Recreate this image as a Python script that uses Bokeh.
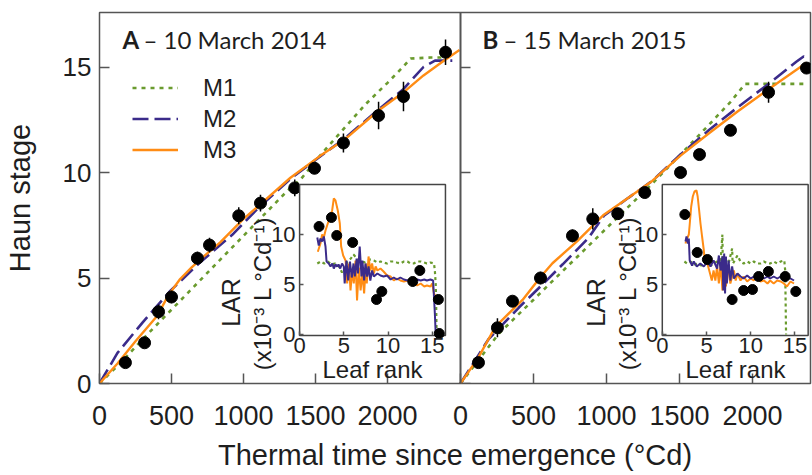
import math
from bokeh.plotting import figure
from bokeh.models import (Range1d, LinearAxis, FixedTicker, Label, Legend,
                          LegendItem, ColumnDataSource, CustomJSTickFormatter)
from bokeh.embed import file_html
from bokeh.resources import INLINE

# ---------------- data ----------------
haun_ticks = [0, 5, 10, 15]
tt_ticks = [0, 500, 1000, 1500, 2000]
lar_ticks = [0, 5, 10]
leaf_ticks = [0, 5, 10, 15]

# Panel A (10 March 2014) observations
obs_a_tt = [180, 313, 410, 500, 680, 764, 967, 1118, 1356, 1493, 1694, 1938, 2111, 2403]
obs_a_haun = [0.99, 1.93, 3.4, 4.1, 5.94, 6.56, 7.95, 8.55, 9.27, 10.2, 11.4, 12.7, 13.6, 15.7]
obs_a_err = [0.2, 0.2, 0.35, 0.3, 0.3, 0.35, 0.4, 0.4, 0.4, 0.2, 0.45, 0.65, 0.7, 0.6]

# Panel B (15 March 2015) observations
obs_b_tt = [123, 253, 356, 548, 767, 906, 1077, 1262, 1507, 1637, 1849, 2110, 2370]
obs_b_haun = [0.99, 2.64, 3.9, 5.0, 7.0, 7.8, 8.05, 9.05, 10.0, 10.85, 12.0, 13.8, 14.95]
obs_b_err = [0.2, 0.45, 0.25, 0.3, 0.3, 0.5, 0.25, 0.25, 0.2, 0.2, 0.2, 0.5, 0.2]

# Panel A models
m1a_tt = [0, 150, 300, 500, 700, 900, 1100, 1300, 1400, 1550, 1700, 1850, 2000, 2100, 2160, 2300, 2400]
m1a_h = [0, 1.0, 2.1, 3.5, 4.9, 6.3, 7.7, 9.1, 9.7, 10.95, 12.1, 13.25, 14.25, 14.95, 15.4, 15.45, 15.45]
m2a_tt = [0, 125, 300, 493, 700, 930, 1100, 1326, 1500, 1700, 1940, 2110, 2250, 2330, 2450]
m2a_h = [0, 1.45, 2.9, 4.4, 5.75, 7.1, 8.3, 9.7, 10.6, 11.6, 13.0, 13.95, 15.0, 15.3, 15.3]
m3a_tt = [0, 125, 250, 400, 480, 560, 640, 720, 840, 1000, 1118, 1326, 1535, 1700, 1940, 2111, 2250, 2391, 2500]
m3a_h = [0, 0.95, 2.0, 3.2, 4.2, 4.95, 5.5, 6.0, 6.7, 7.8, 8.5, 9.75, 10.8, 11.55, 12.95, 13.8, 14.6, 15.3, 15.8]

# Panel B models
m1b_tt = [0, 100, 262, 500, 700, 900, 1100, 1313, 1500, 1700, 1850, 1950, 2100, 2350]
m1b_h = [0, 0.9, 2.36, 3.97, 5.33, 6.68, 8.04, 9.47, 10.8, 12.25, 13.35, 14.2, 14.2, 14.2]
m2b_tt = [0, 192, 400, 548, 700, 877, 982, 1150, 1313, 1507, 1700, 1900, 2110, 2300, 2350, 2380]
m2b_h = [0, 2.1, 3.6, 4.6, 5.65, 6.9, 7.95, 8.8, 9.6, 10.85, 12.0, 13.1, 14.2, 15.25, 15.5, 15.45]
m3b_tt = [0, 120, 240, 425, 548, 630, 800, 982, 1150, 1313, 1507, 1700, 1900, 2110, 2370]
m3b_h = [0, 1.2, 2.7, 3.96, 5.05, 5.7, 6.75, 8.0, 8.8, 9.6, 10.8, 11.85, 12.9, 13.95, 15.2]

# Inset A: leaf appearance rate vs leaf rank
ins_a_obs_leaf = [2.2, 3.6, 4.2, 6.0, 8.7, 9.3, 12.8, 13.6, 15.7, 15.8]
ins_a_obs_lar = [10.8, 11.7, 9.9, 9.2, 3.5, 4.3, 5.3, 6.4, 3.5, 0.1]
ins_a_m1_leaf = [2.0, 2.4, 2.8, 3.2, 3.6, 4.0, 4.4, 4.8, 5.1, 5.4, 5.8, 6.1, 6.5, 6.9, 7.3, 7.6, 8.0, 8.4, 8.8, 9.15,
                 9.5, 9.9, 10.3, 10.65, 11.0, 11.4, 11.8, 12.2, 12.55, 12.9, 13.3, 13.7, 14.1, 14.4, 14.8, 15.2,
                 15.3, 15.4, 15.45, 15.5]
ins_a_m1_lar = [7.1, 7.3, 7.1, 7.3, 7.0, 7.1, 6.9, 6.2, 6.6, 7.3, 7.6, 8.0, 7.6, 7.4, 7.2, 7.3, 7.5, 7.4, 7.2, 7.3,
                7.2, 7.1, 7.3, 7.3, 7.2, 7.1, 7.3, 7.3, 7.1, 7.1, 7.3, 7.3, 7.2, 7.1, 7.2, 7.1,
                6.4, 5.0, 3.0, 0.0]
ins_a_m2_leaf = [2.0, 2.17, 2.36, 2.55, 2.74, 2.93, 3.05, 3.3, 3.5, 3.7, 3.87, 4.06, 4.25, 4.4, 4.6, 4.8, 5.0, 5.1,
                 5.3, 5.5, 5.7, 5.9, 6.1, 6.25, 6.45, 6.6, 6.8, 7.0, 7.1, 7.3, 7.45, 7.64, 7.8, 8.0, 8.2, 8.4,
                 8.8, 9.15, 9.5, 9.9, 10.3, 10.65, 11.0, 11.4, 11.8, 12.2, 12.55, 12.9, 13.3, 13.7, 14.1, 14.4,
                 14.8, 15.1, 15.2, 15.3, 15.4]
ins_a_m2_lar = [9.7, 8.9, 9.6, 9.3, 9.8, 8.8, 7.3, 7.1, 6.8, 7.1, 6.6, 7.0, 6.8, 7.0, 6.6, 7.1, 6.8, 5.1,
                7.4, 5.4, 7.3, 5.7, 7.1, 5.8, 7.6, 6.1, 8.8, 5.8, 7.4, 5.4, 7.1, 5.8, 6.8, 5.4, 6.4, 5.8,
                6.1, 5.9, 5.8, 5.9, 5.5, 5.7, 5.5, 5.7, 5.5, 5.4, 5.5, 5.4, 5.5, 5.4, 5.5, 5.4,
                5.5, 5.4, 3.8, 2.1, 0.0]
ins_a_m3_leaf = [2.06, 2.36, 2.55, 2.74, 2.93, 3.3, 3.68, 3.87, 4.06, 4.32, 4.55, 4.7, 4.93, 5.2, 5.38, 5.57,
                 5.76, 5.95, 6.13, 6.32, 6.5, 6.7, 6.9, 7.1, 7.3, 7.5, 7.6, 7.8, 8.0, 8.2, 8.4, 8.6, 8.8, 9.15,
                 9.5, 9.9, 10.3, 10.65, 11.0, 11.4, 11.8, 12.2, 12.55, 12.9, 13.3, 13.7, 14.1, 14.4, 14.8,
                 15.0, 15.2, 15.4, 15.6]
ins_a_m3_lar = [8.27, 9.1, 10.0, 9.7, 10.4, 11.4, 12.4, 13.6, 13.4, 12.4, 11.1, 8.8, 7.9, 7.4, 5.1, 7.1,
                4.4, 6.4, 5.1, 7.4, 3.4, 6.7, 4.4, 6.1, 4.1, 7.1, 5.1, 7.8, 6.4, 7.1, 6.1, 6.8, 6.4, 6.6,
                6.3, 5.9, 5.8, 5.4, 5.6, 5.4, 5.3, 5.4, 5.1, 5.3, 4.9, 5.1, 4.8, 4.9, 4.8,
                5.1, 4.1, 3.8, 3.6]

# Inset B
ins_b_obs_leaf = [2.55, 3.95, 5.1, 7.9, 9.2, 10.2, 10.9, 12.0, 13.9, 15.1]
ins_b_obs_lar = [12.0, 8.2, 7.5, 3.5, 4.4, 4.5, 5.8, 6.3, 5.8, 4.3]
ins_b_m1_leaf = [2.5, 2.81, 3.2, 3.6, 4.0, 4.4, 4.8, 5.2, 5.5, 5.8, 6.2, 6.6, 6.8, 6.85, 7.2, 7.5, 7.9, 7.95,
                 8.0, 8.5, 8.85, 9.2, 9.6, 10.0, 10.35, 10.7, 11.1, 11.5, 11.9, 12.2, 12.6, 13.0, 13.4, 13.8,
                 13.9, 13.95, 14.0]
ins_b_m1_lar = [7.3, 7.1, 7.3, 7.0, 7.1, 6.9, 7.0, 7.2, 6.9, 7.1, 7.3, 7.4, 10.0, 6.7, 7.4, 7.1, 8.6, 7.2,
                7.1, 7.9, 7.3, 7.1, 7.3, 7.1, 7.3, 7.1, 7.1, 7.3, 7.1, 7.1, 7.3, 7.1, 7.3, 7.4,
                6.4, 3.4, 0.0]
ins_b_m2_leaf = [2.62, 2.74, 2.9, 3.0, 3.1, 3.37, 3.56, 3.9, 4.3, 4.7, 5.1, 5.45, 5.8, 6.2, 6.4, 6.6, 6.8, 6.9,
                 7.0, 7.1, 7.2, 7.3, 7.5, 7.7, 7.9, 8.1, 8.5, 8.85, 9.2, 9.6, 10.0, 10.35, 10.7, 11.1, 11.5,
                 11.9, 12.2, 12.6, 13.0, 13.4, 13.75, 14.1, 14.5, 14.9]
ins_b_m2_lar = [9.3, 9.8, 9.1, 9.6, 7.4, 6.9, 7.3, 6.8, 7.1, 6.8, 7.3, 6.8, 7.4, 6.6, 7.9, 6.4, 7.8, 4.4,
                8.1, 4.1, 7.8, 5.1, 7.4, 5.4, 6.8, 5.6, 6.1, 5.8, 5.6, 5.9, 5.6, 5.8, 5.4, 5.8, 5.6,
                5.8, 5.6, 5.8, 5.6, 5.8, 5.6, 5.8, 5.6, 5.4]
ins_b_m3_leaf = [2.62, 2.81, 3.0, 3.1, 3.27, 3.45, 3.64, 3.87, 4.0, 4.17, 4.32, 4.5, 4.7, 4.8, 5.1, 5.4, 5.6,
                 5.8, 6.0, 6.2, 6.4, 6.6, 6.8, 7.0, 7.2, 7.3, 7.5, 7.7, 7.9, 8.1, 8.3, 8.5, 8.85, 9.2, 9.6,
                 10.0, 10.35, 10.7, 11.1, 11.5, 11.9, 12.2, 12.6, 13.0, 13.4, 13.75, 14.1, 14.5, 14.9]
ins_b_m3_lar = [9.1, 9.6, 10.0, 11.0, 12.8, 13.8, 14.3, 14.4, 13.8, 12.4, 11.1, 9.8, 8.4, 7.4, 7.1, 6.1, 5.4,
                6.4, 5.4, 6.8, 5.1, 7.1, 4.4, 6.8, 4.8, 6.1, 6.4, 5.1, 5.8, 6.4, 5.4, 6.1, 5.4, 5.8, 5.3,
                5.6, 5.4, 5.8, 5.3, 5.4, 5.1, 5.4, 5.1, 5.4, 5.3, 5.1, 4.8, 5.3, 5.1]

series_names = ["M1", "M2", "M3"]
panel_a_title = ("A", "\u2013 10 March 2014")
panel_b_title = ("B", "\u2013 15 March 2015")
x_title = "Thermal time since emergence (\u00b0Cd)"
y_title = "Haun stage"
inset_x_title = "Leaf rank"
inset_y_title = ("LAR", "(x10\u207b\u00b3 L \u00b0Cd\u207b\u00b9)")

# ---------------- styling / geometry ----------------
C_M1 = "#6a9b2e"
C_M2 = "#3b2b8a"
C_M3 = "#ff8c14"
TXT = "#1e1e1e"
FRAME = "#555555"
FONT = "Liberation Sans"
DASH_M1 = "4 5"
DASH_M2 = "16 6"

W, H = 812, 475
BL, BR, BT, BB = 99, 2, 12, 92
FW = W - BL - BR          # frame width in px
FH = H - BT - BB          # frame height in px
SA = 0.144                # px per degree-day, panel A
SB = 0.146                # px per degree-day, panel B
B_OFF = 361               # px from frame left to panel B origin
SY = 21.1                 # px per Haun unit
SL = 8.84                 # px per leaf rank in insets
SLAR = 10.0               # px per LAR unit in insets
INA_OFF, INB_OFF = 200.1, 562.8   # px from frame left to inset leaf-0
LAR0 = 322.0              # px from frame top to LAR 0
INSET_LEAF = (0, 16.5)
INSET_LAR = (-0.1, 15)

p = figure(width=W, height=H, output_backend="svg", toolbar_location=None,
           x_range=Range1d(0, FW / SA), y_range=Range1d(0, FH / SY),
           x_axis_type=None, y_axis_type=None,
           min_border_left=BL, min_border_right=BR, min_border_top=BT, min_border_bottom=BB)
p.extra_x_ranges = {"B": Range1d(-B_OFF / SB, (FW - B_OFF) / SB),
                    "leafA": Range1d(-INA_OFF / SL, (FW - INA_OFF) / SL),
                    "leafB": Range1d(-INB_OFF / SL, (FW - INB_OFF) / SL)}
p.extra_y_ranges = {"lar": Range1d(-(FH - LAR0) / SLAR, LAR0 / SLAR)}
p.grid.visible = False
p.outline_line_color = FRAME
p.outline_line_width = 1.5
p.background_fill_color = "white"
p.border_fill_color = "white"


def style_axis(ax, size, tick_in, standoff):
    ax.major_tick_in = tick_in
    ax.major_tick_out = 0
    ax.minor_tick_in = 0
    ax.minor_tick_out = 0
    ax.major_tick_line_color = FRAME
    ax.major_tick_line_width = 1.5
    ax.major_label_text_font = FONT
    ax.major_label_text_font_size = size
    ax.major_label_text_color = TXT
    ax.major_label_standoff = standoff
    ax.axis_line_color = None


# main y axis (panel A)
ya = LinearAxis(ticker=FixedTicker(ticks=haun_ticks), axis_label=y_title)
style_axis(ya, "26px", 10, 8)
ya.axis_label_text_font = FONT
ya.axis_label_text_font_size = "29px"
ya.axis_label_text_font_style = "normal"
ya.axis_label_text_color = TXT
ya.axis_label_standoff = 24
p.add_layout(ya, "left")

# shared bottom axis: panel A ticks in A units, panel B ticks mapped from B units
b_origin = B_OFF / SA
b_ticks = [b_origin + t * SB / SA for t in tt_ticks]
xa = LinearAxis(ticker=FixedTicker(ticks=tt_ticks + b_ticks), axis_label=x_title,
                bounds=(0, 5100))
xa.formatter = CustomJSTickFormatter(
    args=dict(b0=b_origin, r=SA / SB),
    code="if (tick < b0 - 1) { return String(Math.round(tick)); } "
         "return String(Math.round((tick - b0) * r));")
style_axis(xa, "27px", 10, 22)
xa.axis_label_text_font = FONT
xa.axis_label_text_font_size = "29px"
xa.axis_label_text_font_style = "normal"
xa.axis_label_text_color = TXT
xa.axis_label_standoff = 11
p.add_layout(xa, "below")

# left edge of panel B (axis line + inward ticks, no labels)
yb = LinearAxis(x_range_name="B", fixed_location=0, ticker=FixedTicker(ticks=haun_ticks))
style_axis(yb, "25px", 10, 8)
yb.major_label_text_color = None
yb.axis_line_color = FRAME
yb.axis_line_width = 2
p.add_layout(yb, "left")

# ---------------- main panels ----------------
legend_renderers = []
for xr, m1, m2, m3, obs in [
        ("default", (m1a_tt, m1a_h), (m2a_tt, m2a_h), (m3a_tt, m3a_h), (obs_a_tt, obs_a_haun, obs_a_err)),
        ("B", (m1b_tt, m1b_h), (m2b_tt, m2b_h), (m3b_tt, m3b_h), (obs_b_tt, obs_b_haun, obs_b_err))]:
    r1 = p.line(m1[0], m1[1], x_range_name=xr, line_color=C_M1, line_width=2.6, line_dash=DASH_M1)
    r2 = p.line(m2[0], m2[1], x_range_name=xr, line_color=C_M2, line_width=2.6, line_dash=DASH_M2)
    r3 = p.line(m3[0], m3[1], x_range_name=xr, line_color=C_M3, line_width=2.4)
    if xr == "default":
        legend_renderers = [r1, r2, r3]
    tt, hv, er = obs
    src = ColumnDataSource(dict(tt=tt, h=hv, lo=[a - b for a, b in zip(hv, er)],
                                hi=[a + b for a, b in zip(hv, er)]))
    p.segment(x0="tt", y0="lo", x1="tt", y1="hi", source=src, x_range_name=xr,
              line_color="black", line_width=1.5)
    p.scatter(x="tt", y="h", source=src, x_range_name=xr, size=12,
              fill_color="black", line_color="black")

# ---------------- insets ----------------
for lr, obs, m1, m2, m3, lx in [
        ("leafA", (ins_a_obs_leaf, ins_a_obs_lar), (ins_a_m1_leaf, ins_a_m1_lar),
         (ins_a_m2_leaf, ins_a_m2_lar), (ins_a_m3_leaf, ins_a_m3_lar), (-69, -37)),
        ("leafB", (ins_b_obs_leaf, ins_b_obs_lar), (ins_b_m1_leaf, ins_b_m1_lar),
         (ins_b_m2_leaf, ins_b_m2_lar), (ins_b_m3_leaf, ins_b_m3_lar), (-66, -35))]:
    p.quad(left=[INSET_LEAF[0]], right=[INSET_LEAF[1]], bottom=[INSET_LAR[0]], top=[INSET_LAR[1]],
           x_range_name=lr, y_range_name="lar", fill_color="white", line_color="#444444",
           line_width=1.5)
    p.line(m1[0], m1[1], x_range_name=lr, y_range_name="lar", line_color=C_M1,
           line_width=2.2, line_dash="3 3")
    p.line(m3[0], m3[1], x_range_name=lr, y_range_name="lar", line_color=C_M3, line_width=2.0)
    p.line(m2[0], m2[1], x_range_name=lr, y_range_name="lar", line_color=C_M2, line_width=2.0)
    p.scatter(obs[0], obs[1], x_range_name=lr, y_range_name="lar", size=10,
              fill_color="black", line_color="black")

    ix = LinearAxis(x_range_name=lr, y_range_name="lar", fixed_location=INSET_LAR[0],
                    bounds=INSET_LEAF, ticker=FixedTicker(ticks=leaf_ticks), axis_label=inset_x_title)
    style_axis(ix, "22px", 4, 2)
    ix.axis_label_text_font = FONT
    ix.axis_label_text_font_size = "24px"
    ix.axis_label_text_font_style = "normal"
    ix.axis_label_text_color = TXT
    ix.axis_label_standoff = 0
    p.add_layout(ix, "below")

    iy = LinearAxis(x_range_name=lr, y_range_name="lar", fixed_location=INSET_LEAF[0],
                    bounds=INSET_LAR, ticker=FixedTicker(ticks=lar_ticks))
    style_axis(iy, "22px", 4, 4)
    p.add_layout(iy, "left")

    p.add_layout(Label(x=INSET_LEAF[0], y=INSET_LAR[0], x_range_name=lr, y_range_name="lar",
                       x_offset=lx[0], y_offset=33, text=inset_y_title[0], angle=math.pi / 2,
                       text_align="center", text_baseline="middle", text_font=FONT,
                       text_font_size="25px", text_color=TXT))
    p.add_layout(Label(x=INSET_LEAF[0], y=INSET_LAR[0], x_range_name=lr, y_range_name="lar",
                       x_offset=lx[1], y_offset=42, text=inset_y_title[1],
                       angle=math.pi / 2, text_align="center", text_baseline="middle",
                       text_font=FONT, text_font_size="24px", text_color=TXT))

# ---------------- panel titles ----------------
for xr, (letter, rest), offs in [("default", panel_a_title, (23, 44)), ("B", panel_b_title, (22, 43))]:
    p.add_layout(Label(x=0, y=FH / SY, x_range_name=xr, x_offset=offs[0], y_offset=-27, text=letter,
                       text_font="Lato", text_font_size="24px", text_font_style="bold",
                       text_color=TXT, text_baseline="alphabetic"))
    p.add_layout(Label(x=0, y=FH / SY, x_range_name=xr, x_offset=offs[1], y_offset=-27, text=rest,
                       text_font="Lato", text_font_size="24px", text_color=TXT,
                       text_baseline="alphabetic"))

# ---------------- legend ----------------
legend = Legend(items=[LegendItem(label=n, renderers=[r]) for n, r in zip(series_names, legend_renderers)],
                location=(33, 218), glyph_width=46, glyph_height=31, label_height=31,
                label_standoff=25, spacing=0, padding=0, margin=0,
                border_line_color=None, background_fill_alpha=0,
                label_text_font=FONT, label_text_font_size="24px", label_text_color=TXT)
p.add_layout(legend)

open("out.html", "w").write(file_html(p, INLINE))
